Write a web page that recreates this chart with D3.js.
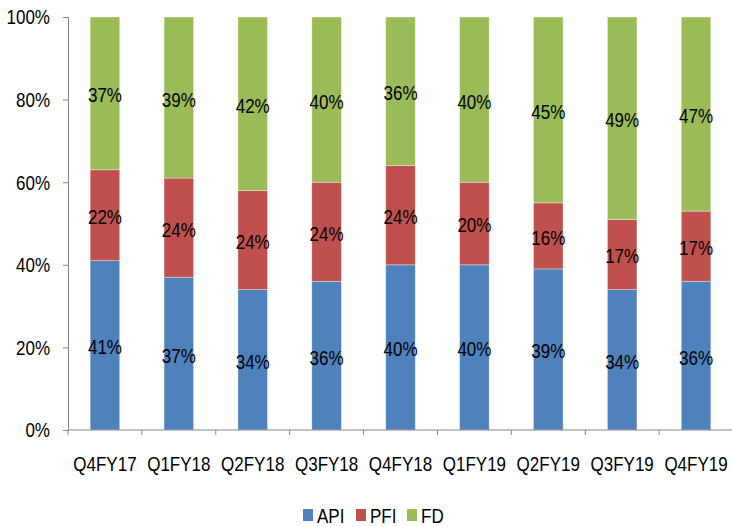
<!DOCTYPE html>
<html>
<head>
<meta charset="utf-8">
<script src="https://cdn.jsdelivr.net/npm/d3@7"></script>
<style>
  body { margin: 0; background: #fff; }
  text { font-family: "Liberation Sans", Arial, sans-serif; }
</style>
</head>
<body>
<svg width="732" height="527"></svg>
<script>
// data
const quarters = ["Q4FY17", "Q1FY18", "Q2FY18", "Q3FY18", "Q4FY18", "Q1FY19", "Q2FY19", "Q3FY19", "Q4FY19"];
const api = [41, 37, 34, 36, 40, 40, 39, 34, 36];
const pfi = [22, 24, 24, 24, 24, 20, 16, 17, 17];
const fd  = [37, 39, 42, 40, 36, 40, 45, 49, 47];
const seriesNames = ["API", "PFI", "FD"];
const colors = ["#4F81BD", "#C0504D", "#9BBB59"];
const yTicks = [0, 20, 40, 60, 80, 100];

const svg = d3.select("svg");
const margin = { top: 17, right: 0, bottom: 97, left: 68 };
const chartWidth = 732 - margin.left - margin.right;
const chartHeight = 527 - margin.top - margin.bottom;
const stretch = 1.17; // the reference text is a bit taller than wide

const g = svg.append("g")
  .attr("transform", `translate(${margin.left},${margin.top})`);

const table = quarters.map((q, i) => ({ q, API: api[i], PFI: pfi[i], FD: fd[i] }));
const stacked = d3.stack().keys(seriesNames)(table);

const x = d3.scaleBand()
  .domain(quarters)
  .range([0, 665])
  .paddingInner(0.6)
  .paddingOuter(0.3);

const y = d3.scaleLinear()
  .domain([0, 100])
  .range([chartHeight, 0]);

// bars
stacked.forEach((s, si) => {
  g.append("g")
    .selectAll("rect")
    .data(s)
    .join("rect")
    .attr("x", d => x(d.data.q))
    .attr("y", d => y(d[1]))
    .attr("width", x.bandwidth())
    .attr("height", d => y(d[0]) - y(d[1]))
    .attr("fill", colors[si])
    .attr("stroke", "#fff")
    .attr("stroke-opacity", 0.5)
    .attr("stroke-width", 0.7);

  g.append("g")
    .selectAll("text")
    .data(s)
    .join("text")
    .attr("transform", d => `translate(${x(d.data.q) + x.bandwidth() / 2},${(y(d[0]) + y(d[1])) / 2 + 2}) scale(1,${stretch})`)
    .attr("text-anchor", "middle")
    .attr("dominant-baseline", "central")
    .attr("font-size", 17)
    .attr("fill", "#000")
    .text(d => (d[1] - d[0]) + "%");
});

// y axis
const yAxis = g.append("g")
  .call(d3.axisLeft(y).tickValues(yTicks).tickFormat(d => d + "%").tickSize(5).tickSizeOuter(5));
yAxis.selectAll("path, line").attr("stroke", "#868686");
yAxis.selectAll("text")
  .attr("font-size", 17)
  .attr("font-family", "Liberation Sans, Arial, sans-serif")
  .attr("fill", "#000")
  .attr("x", null)
  .attr("dy", null)
  .attr("dominant-baseline", "central")
  .attr("transform", `translate(-18,0) scale(1,${stretch})`);

// x axis
const xStep = 665 / quarters.length;
const xAxis = g.append("g")
  .attr("transform", `translate(0,${chartHeight})`);
xAxis.append("line")
  .attr("x1", 0).attr("x2", chartWidth)
  .attr("stroke", "#868686");
xAxis.selectAll("line.tick")
  .data(d3.range(quarters.length))
  .join("line")
  .attr("class", "tick")
  .attr("x1", i => i * xStep).attr("x2", i => i * xStep)
  .attr("y1", 0).attr("y2", 5)
  .attr("stroke", "#868686");
xAxis.selectAll("text")
  .data(quarters)
  .join("text")
  .attr("transform", d => `translate(${x(d) + x.bandwidth() / 2},41) scale(1,${stretch})`)
  .attr("text-anchor", "middle")
  .attr("font-size", 17)
  .text(d => d);

// legend
const legendX = [303, 356, 407];
const legend = svg.append("g");
seriesNames.forEach((name, i) => {
  legend.append("rect")
    .attr("x", legendX[i]).attr("y", 509)
    .attr("width", 10).attr("height", 12)
    .attr("fill", colors[i]);
  legend.append("text")
    .attr("transform", `translate(${legendX[i] + 14},523) scale(1,${stretch})`)
    .attr("font-size", 17)
    .text(name);
});
</script>
</body>
</html>
